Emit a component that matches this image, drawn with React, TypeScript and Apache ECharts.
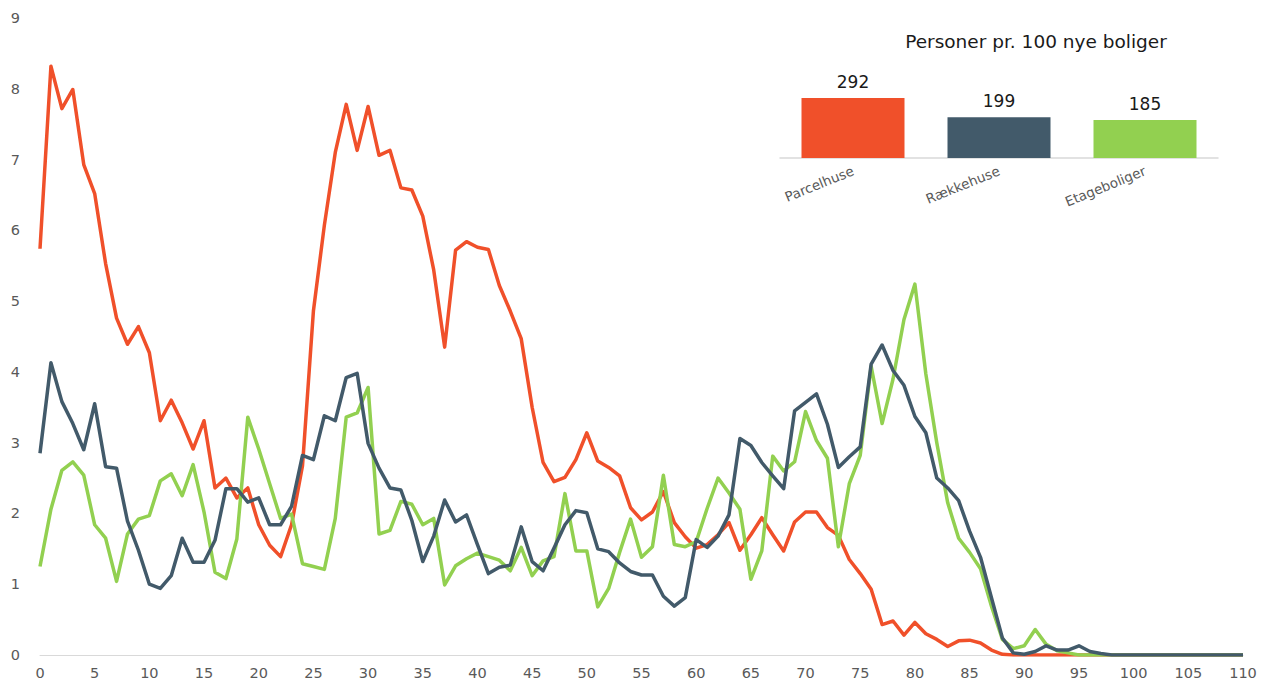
import React, { useEffect, useRef } from "react";
import * as echarts from "echarts";

const ages: number[] = Array.from({ length: 111 }, (_, i) => i);

const parcelhuse: number[] = [
  5.74, 8.32, 7.72, 7.99, 6.93, 6.52, 5.53, 4.76, 4.39, 4.64,
  4.27, 3.31, 3.6, 3.28, 2.91, 3.31, 2.36, 2.5, 2.22, 2.36,
  1.84, 1.55, 1.39, 1.84, 2.67, 4.86, 6.07, 7.1, 7.78, 7.13,
  7.75, 7.06, 7.13, 6.6, 6.57, 6.2, 5.44, 4.35, 5.72, 5.84,
  5.76, 5.73, 5.22, 4.86, 4.47, 3.5, 2.72, 2.45, 2.51, 2.76,
  3.14, 2.74, 2.65, 2.53, 2.08, 1.91, 2.02, 2.31, 1.87, 1.67,
  1.51, 1.56, 1.7, 1.87, 1.48, 1.7, 1.94, 1.7, 1.47, 1.88,
  2.02, 2.02, 1.8, 1.69, 1.35, 1.15, 0.93, 0.43, 0.48, 0.28,
  0.46, 0.3, 0.22, 0.12, 0.2, 0.21, 0.17, 0.07, 0.01, 0,
  0, 0, 0, 0, 0, 0, 0, 0, 0, 0,
  0, 0, 0, 0, 0, 0, 0, 0, 0, 0,
  0,
];

const raekkehuse: number[] = [
  2.85, 4.13, 3.58, 3.27, 2.9, 3.55, 2.66, 2.64, 1.89, 1.48,
  1.0, 0.94, 1.12, 1.65, 1.31, 1.31, 1.62, 2.35, 2.35, 2.16,
  2.22, 1.84, 1.84, 2.1, 2.82, 2.76, 3.38, 3.31, 3.92, 3.98,
  2.99, 2.64, 2.36, 2.33, 1.9, 1.32, 1.68, 2.19, 1.88, 1.98,
  1.56, 1.15, 1.24, 1.27, 1.81, 1.32, 1.19, 1.51, 1.84, 2.04,
  2.01, 1.5, 1.46, 1.3, 1.18, 1.13, 1.13, 0.83, 0.69, 0.81,
  1.63, 1.52, 1.68, 1.98, 3.06, 2.96, 2.72, 2.53, 2.35, 3.45,
  3.57, 3.69, 3.26, 2.65, 2.8, 2.94, 4.11, 4.38, 4.02, 3.81,
  3.37, 3.14, 2.5, 2.36, 2.18, 1.75, 1.38, 0.81, 0.24, 0.03,
  0.01, 0.05, 0.13, 0.07, 0.07, 0.13, 0.05, 0.02, 0, 0,
  0, 0, 0, 0, 0, 0, 0, 0, 0, 0,
  0,
];

const etageboliger: number[] = [
  1.25, 2.06, 2.61, 2.73, 2.54, 1.84, 1.65, 1.04, 1.71, 1.92,
  1.97, 2.46, 2.56, 2.25, 2.69, 2.02, 1.17, 1.08, 1.64, 3.36,
  2.91, 2.42, 1.93, 1.99, 1.29, 1.25, 1.21, 1.93, 3.36, 3.42,
  3.78, 1.71, 1.76, 2.17, 2.13, 1.84, 1.93, 0.99, 1.26, 1.36,
  1.44, 1.39, 1.34, 1.19, 1.52, 1.12, 1.33, 1.39, 2.28, 1.47,
  1.47, 0.68, 0.94, 1.45, 1.92, 1.38, 1.53, 2.54, 1.56, 1.53,
  1.6, 2.07, 2.5, 2.29, 2.06, 1.07, 1.47, 2.81, 2.6, 2.73,
  3.44, 3.03, 2.78, 1.53, 2.42, 2.82, 4.08, 3.27, 3.9, 4.74,
  5.24, 3.97, 3.0, 2.15, 1.65, 1.45, 1.22, 0.69, 0.22, 0.09,
  0.13, 0.36, 0.15, 0.06, 0.03, 0, 0, 0, 0, 0,
  0, 0, 0, 0, 0, 0, 0, 0, 0, 0,
  0,
];

const insetTitle = "Personer pr. 100 nye boliger";
const insetCategories: string[] = ["Parcelhuse", "Rækkehuse", "Etageboliger"];
const insetValues: number[] = [292, 199, 185];

const COLORS = ["#F0502A", "#425A6A", "#92D050"];
const FONT = "DejaVu Sans";

export default function App() {
  const ref = useRef<HTMLDivElement>(null);

  useEffect(() => {
    if (!ref.current) return;
    const chart = echarts.init(ref.current, undefined, { renderer: "svg" });
    const pairs = (arr: number[]) => ages.map((a, i) => [a, arr[i]]);
    const lineSeries = (name: string, arr: number[], color: string, z: number) => ({
      name,
      type: "line",
      xAxisIndex: 0,
      yAxisIndex: 0,
      data: pairs(arr),
      showSymbol: false,
      symbol: "none",
      z,
      lineStyle: { color, width: 3.5, join: "round" },
      itemStyle: { color },
    });
    chart.setOption({
      animation: false,
      textStyle: { fontFamily: FONT },
      grid: [
        { left: 40, right: 26, top: 18, bottom: 27, containLabel: false },
        { left: 780, right: 51, top: 96.4, bottom: 524, containLabel: false },
      ],
      xAxis: [
        {
          type: "value",
          gridIndex: 0,
          min: 0,
          max: 110,
          interval: 5,
          splitLine: { show: false },
          axisTick: { show: false },
          axisLine: { show: true, lineStyle: { color: "#D9D9D9", width: 1 } },
          axisLabel: { color: "#595959", fontSize: 14.5, margin: 10, fontFamily: FONT },
        },
        {
          type: "category",
          gridIndex: 1,
          data: insetCategories,
          axisTick: { show: false },
          axisLine: { show: true, lineStyle: { color: "#D9D9D9", width: 1.5 } },
          axisLabel: {
            color: "#595959",
            fontSize: 13.5,
            rotate: 22,
            margin: 12,
            interval: 0,
            fontFamily: FONT,
          },
        },
      ],
      yAxis: [
        {
          type: "value",
          gridIndex: 0,
          min: 0,
          max: 9,
          interval: 1,
          splitLine: { show: false },
          axisTick: { show: false },
          axisLine: { show: false },
          axisLabel: { color: "#595959", fontSize: 14.5, margin: 20, fontFamily: FONT },
        },
        {
          type: "value",
          gridIndex: 1,
          min: 0,
          max: 300,
          show: false,
          splitLine: { show: false },
        },
      ],
      graphic: [
        {
          type: "text",
          x: 1036,
          y: 41,
          style: {
            text: insetTitle,
            fontSize: 18.5,
            fontFamily: FONT,
            fill: "#1A1A1A",
            align: "center",
            verticalAlign: "middle",
          },
        },
      ],
      series: [
        lineSeries("Parcelhuse", parcelhuse, COLORS[0], 2),
        lineSeries("Etageboliger", etageboliger, COLORS[2], 3),
        lineSeries("Rækkehuse", raekkehuse, COLORS[1], 4),
        {
          type: "bar",
          xAxisIndex: 1,
          yAxisIndex: 1,
          barWidth: 103,
          data: insetValues.map((v, i) => ({ value: v, itemStyle: { color: COLORS[i] } })),
          label: {
            show: true,
            position: "top",
            distance: 8,
            fontSize: 17,
            color: "#1A1A1A",
            fontFamily: FONT,
          },
        },
      ],
    });
    return () => chart.dispose();
  }, []);

  return <div ref={ref} style={{ width: 1269, height: 682, position: "absolute", left: 0, top: 0 }} />;
}
